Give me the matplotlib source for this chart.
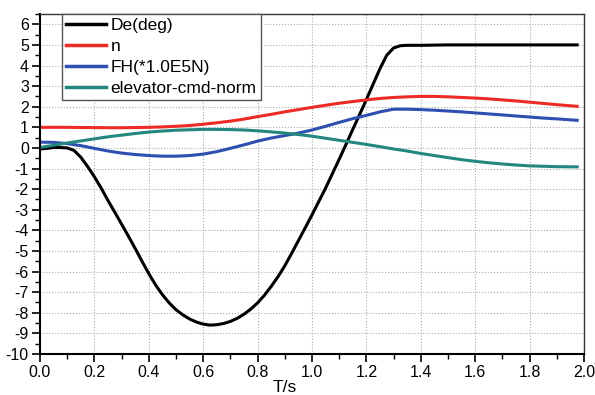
import matplotlib
matplotlib.use("Agg")
from matplotlib import pyplot as plt
from matplotlib.ticker import MultipleLocator

plt.rcParams['font.family'] = ['Liberation Sans', 'DejaVu Sans']

# De(deg)
t_de = [0.0, 0.025, 0.05, 0.075, 0.100, 0.125, 0.150, 0.175, 0.200, 0.225, 0.250,
        0.275, 0.300, 0.325, 0.350, 0.375, 0.400, 0.425, 0.450, 0.475, 0.500,
        0.525, 0.550, 0.575, 0.600, 0.625, 0.650, 0.675, 0.700, 0.725, 0.750,
        0.775, 0.800, 0.825, 0.850, 0.875, 0.900, 0.925, 0.950, 0.975, 1.000,
        1.025, 1.050, 1.075, 1.100, 1.125, 1.150, 1.175, 1.200, 1.225, 1.250,
        1.275, 1.300, 1.325, 1.350, 1.40, 1.50, 1.60, 1.70, 1.80, 1.90, 1.975]
de = [-0.05, -0.02, 0.02, 0.02, 0.0, -0.12, -0.45, -0.9, -1.4, -1.95, -2.55,
      -3.12, -3.7, -4.28, -4.88, -5.5, -6.1, -6.65, -7.12, -7.52, -7.85,
      -8.1, -8.3, -8.45, -8.55, -8.6, -8.58, -8.52, -8.42, -8.27, -8.07,
      -7.82, -7.52, -7.15, -6.72, -6.25, -5.72, -5.12, -4.5, -3.88, -3.25,
      -2.6, -1.95, -1.25, -0.55, 0.17, 0.9, 1.62, 2.35, 3.1, 3.85,
      4.5, 4.85, 4.96, 4.98, 4.98, 5.0, 5.0, 5.0, 5.0, 5.0, 5.0]

# n, FH, elevator cmd on a common time base
t = [0.0, 0.05, 0.10, 0.15, 0.20, 0.25, 0.30, 0.35, 0.40, 0.45, 0.50, 0.55,
     0.60, 0.65, 0.70, 0.75, 0.80, 0.85, 0.90, 0.95, 1.00, 1.05, 1.10, 1.15,
     1.20, 1.25, 1.30, 1.35, 1.40, 1.45, 1.50, 1.55, 1.60, 1.65, 1.70, 1.75,
     1.80, 1.85, 1.90, 1.975]
n = [1.0, 1.0, 1.0, 0.99, 0.99, 0.98, 0.98, 0.99, 1.0, 1.02, 1.05, 1.09,
     1.15, 1.22, 1.3, 1.4, 1.52, 1.63, 1.75, 1.86, 1.97, 2.07, 2.17, 2.25,
     2.33, 2.4, 2.45, 2.48, 2.5, 2.5, 2.48, 2.45, 2.42, 2.38, 2.33, 2.28,
     2.22, 2.16, 2.1, 2.02]
fh = [0.28, 0.27, 0.21, 0.11, -0.02, -0.15, -0.25, -0.32, -0.37, -0.4, -0.4, -0.37,
      -0.3, -0.18, -0.02, 0.15, 0.33, 0.48, 0.6, 0.72, 0.87, 1.05, 1.24, 1.42,
      1.58, 1.75, 1.88, 1.88, 1.86, 1.83, 1.79, 1.75, 1.7, 1.65, 1.6, 1.55,
      1.5, 1.45, 1.41, 1.34]
elev = [0.02, 0.13, 0.24, 0.34, 0.44, 0.54, 0.62, 0.7, 0.77, 0.82, 0.86, 0.88,
        0.9, 0.9, 0.89, 0.87, 0.83, 0.78, 0.72, 0.65, 0.57, 0.47, 0.37, 0.27,
        0.17, 0.06, -0.05, -0.15, -0.27, -0.37, -0.47, -0.57, -0.65, -0.72, -0.78, -0.83,
        -0.87, -0.89, -0.91, -0.92]

fig = plt.figure(figsize=(5.95, 3.95), dpi=100)
ax = fig.add_axes([0.0672, 0.1038, 0.9143, 0.8608])

lw = 2.2
ax.plot(t_de, de, color='black', lw=lw, label='De(deg)', solid_joinstyle='round')
ax.plot(t, n, color='#ee2a24', lw=lw, label='n')
ax.plot(t, fh, color='#2e4fb0', lw=lw, label='FH(*1.0E5N)')
ax.plot(t, elev, color='#22877c', lw=lw, label='elevator-cmd-norm')

ax.set_xlim(0, 2.0)
ax.set_ylim(-10, 6.5)
ax.xaxis.set_major_locator(MultipleLocator(0.2))
ax.xaxis.set_minor_locator(MultipleLocator(0.1))
ax.yaxis.set_minor_locator(MultipleLocator(0.5))
ax.xaxis.set_major_formatter(plt.FormatStrFormatter('%.1f'))
ax.yaxis.set_major_formatter(plt.FormatStrFormatter('%d'))
ax.set_yticks(list(range(-10, 7)))

ax.grid(True, which='major', color='#aaaaaa', ls=':', lw=0.8)
ax.tick_params(which='major', direction='out', length=6, width=1.2, labelsize=11.5, pad=2)
ax.tick_params(which='minor', direction='out', length=3.5, width=1.0)
ax.tick_params(top=False, right=False, which='both')
for s in ['left', 'bottom']:
    ax.spines[s].set_linewidth(1.5)
for s in ['top', 'right']:
    ax.spines[s].set_linewidth(1.0)
    ax.spines[s].set_color('#333333')

ax.set_xlabel('T/s', fontsize=12.5, x=0.45, labelpad=0)

leg = ax.legend(loc='upper left', bbox_to_anchor=(0.04, 1.0), borderaxespad=0,
                fontsize=12.5, handlelength=2.3, handletextpad=0.25,
                labelspacing=0.32, borderpad=0.25, fancybox=False, framealpha=1)
leg.get_frame().set_edgecolor('#555555')
leg.get_frame().set_linewidth(1.0)
for line in leg.get_lines():
    line.set_linewidth(2.5)

plt.savefig("out.png", dpi=100)
